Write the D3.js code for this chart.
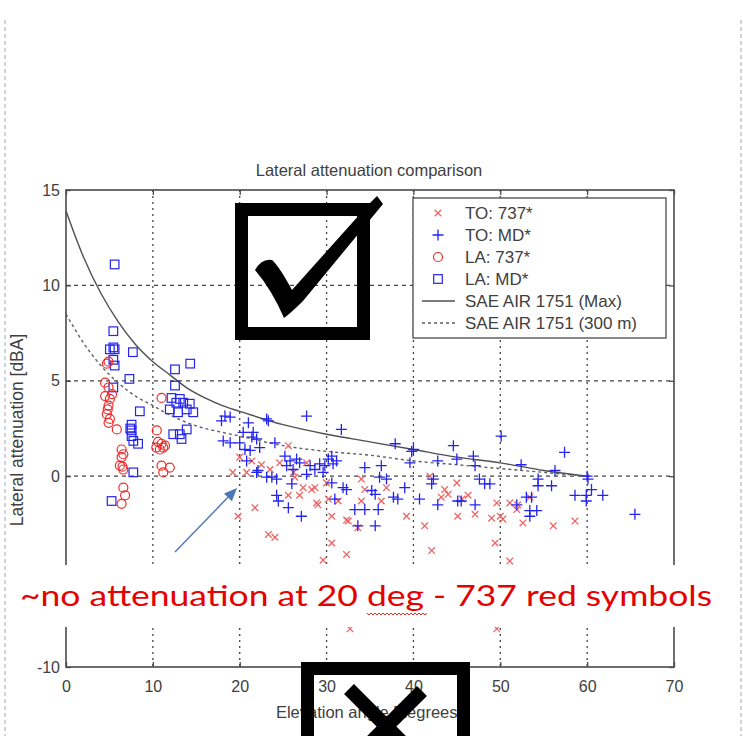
<!doctype html>
<html>
<head>
<meta charset="UTF-8">
<title>Lateral attenuation comparison</title>
<script src="https://d3js.org/d3.v7.min.js"></script>
<style>
  body { margin:0; background:#fff; }
  svg { display:block; }
</style>
</head>
<body>
<script>
// values
var xTicks = [0, 10, 20, 30, 40, 50, 60, 70];
var yTicks = [-10, -5, 0, 5, 10, 15];
var yTickLabels = [-10, 0, 5, 10, 15];   // "-5" sits under the note banner

var saeAngles = [0, 2, 4, 6, 8, 10, 12, 14, 16, 18, 20, 25, 30, 35, 40, 45, 50, 55, 60];
var saeMax    = [13.9, 11.5, 9.6, 8.1, 6.9, 6.0, 5.3, 4.6, 4.1, 3.7, 3.4, 2.7, 2.2, 1.8, 1.4, 1.0, 0.7, 0.3, 0.0];
var sae300    = [8.5, 7.0, 5.8, 4.9, 4.2, 3.7, 3.2, 2.8, 2.5, 2.3, 2.1, 1.6, 1.3, 1.1, 0.8, 0.6, 0.4, 0.2, 0.0];

var to737 = [[20.0,1.0],[21.4,0.8],[19.2,0.2],[20.8,0.2],[22.5,0.6],[24.6,0.7],[25.6,1.6],[23.5,0.35],
  [26.35,-0.05],[25.6,-1.0],[26.9,-1.0],[27.3,-0.6],[28.65,-0.6],[29.0,-1.5],[27.7,0.7],[21.75,-1.65],
  [19.8,-2.1],[23.3,-3.05],[24.05,-3.2],[30.6,-2.1],[30.6,-3.5],[32.3,-2.3],[32.3,-4.1],[30.2,-1.2],
  [31.35,-1.3],[34.0,-0.15],[34.4,-0.7],[34.0,-1.3],[36.3,-1.3],[36.9,-0.6],[32.5,-2.35],[33.6,-2.7],
  [39.2,-2.1],[41.3,-2.6],[42.1,-3.9],[41.9,0.0],[43.6,-0.7],[44.0,-0.95],[43.2,-1.1],[45.0,-0.35],
  [46.3,-1.0],[45.1,-2.1],[47.1,-2.0],[49.0,-2.2],[49.4,-3.5],[49.6,-1.4],[51.1,-1.4],[50.3,-2.25],
  [51.1,-4.45],[51.9,-1.75],[52.6,-2.45],[53.4,-1.1],[56.1,-2.6],[58.6,-2.35],[52.0,-1.5],[30.0,-0.35],
  [26.2,0.2],[28.3,-0.7],[28.85,-1.4],[32.7,-8.0],[49.6,-8.0],[29.6,-4.4],[45.6,-1.2],[50.0,-2.1]];

var toMD = [[18.3,3.15],[17.9,2.9],[18.9,3.1],[21.0,2.8],[23.3,2.9],[27.7,3.15],[31.7,2.45],[20.4,2.3],
  [21.55,2.3],[21.95,1.95],[21.4,2.05],[18.9,1.75],[18.1,1.85],[20.0,1.75],[24.05,1.75],[22.3,1.5],
  [21.2,1.35],[20.8,0.8],[22.1,0.3],[23.7,-0.05],[24.25,-0.15],[25.2,1.05],[25.8,0.8],[26.55,0.9],
  [25.4,0.55],[26.15,0.35],[26.9,0.7],[26.0,-0.4],[24.25,-1.0],[24.45,-1.3],[25.6,-1.65],[27.1,-2.1],
  [28.1,0.55],[28.65,0.35],[27.7,0.1],[29.2,0.65],[29.8,0.55],[29.6,0.2],[30.2,0.9],[30.6,1.05],
  [30.75,0.65],[31.15,0.8],[30.6,-0.35],[31.9,-0.6],[30.95,-1.2],[37.9,1.7],[40.0,1.4],[39.6,0.7],
  [42.8,0.8],[44.6,1.6],[45.0,0.9],[46.9,1.05],[47.1,0.55],[47.6,-0.15],[48.2,-0.4],[34.4,0.45],
  [36.3,0.55],[36.1,-0.05],[36.9,-0.15],[32.3,-0.7],[35.6,-0.95],[39.0,-0.6],[38.2,-1.2],[40.7,-1.2],
  [42.3,-0.15],[42.1,-0.4],[33.25,-1.75],[34.4,-1.75],[35.95,-1.75],[33.6,-2.6],[35.6,-2.6],[42.8,-1.5],
  [45.1,-1.3],[45.5,-1.3],[47.1,-1.5],[37.7,-1.1],[35.2,-0.75],[39.8,1.3],[50.1,2.1],[57.4,1.25],
  [52.4,0.6],[54.35,-0.15],[54.35,-0.5],[55.9,-0.5],[56.3,0.3],[60.1,-0.15],[60.5,-0.7],[58.6,-1.0],
  [59.9,-1.0],[61.8,-1.0],[59.9,-1.3],[65.5,-2.0],[53.0,-1.1],[53.6,-1.1],[51.9,-1.5],[53.4,-1.8],
  [54.2,-1.8],[53.4,-2.1],[48.8,-0.4],[60.0,0.0],[23.1,3.0],[21.95,0.2],[23.1,-0.05],[20.6,1.4]];

var la737 = [[4.9,6.0],[4.7,5.9],[4.5,4.9],[4.9,4.65],[4.5,4.2],[5.05,4.05],[4.9,3.7],[4.7,3.25],
  [5.05,3.0],[4.9,2.8],[5.85,2.45],[6.4,1.4],[6.6,1.15],[6.4,1.0],[6.2,0.55],[6.6,0.35],[6.5,0.5],
  [6.6,-0.6],[6.8,-1.0],[6.4,-1.45],[11.0,4.1],[10.45,2.4],[10.6,1.8],[11.0,1.7],[10.4,1.5],[11.4,1.6],
  [10.8,1.4],[11.2,1.5],[11.0,0.55],[11.95,0.45],[11.2,0.2],[5.3,4.3],[4.8,3.5]];

var laMD = [[5.6,11.1],[5.45,7.6],[5.45,6.75],[5.45,6.1],[7.7,6.5],[5.6,5.8],[7.3,5.1],[5.45,4.65],
  [8.5,3.4],[7.55,2.7],[7.4,2.5],[7.55,2.4],[7.55,2.1],[7.75,1.85],[8.3,1.7],[7.75,0.2],[5.25,-1.3],
  [12.55,5.6],[14.3,5.9],[12.55,4.75],[12.15,4.1],[12.7,3.85],[13.5,3.85],[14.25,3.8],[14.65,3.35],
  [11.95,3.5],[12.9,3.35],[13.9,3.5],[13.1,4.05],[12.35,2.2],[13.1,2.2],[13.9,2.45],[13.3,1.95],
  [5.05,6.65],[5.6,6.65]];

var legendNames = ["TO: 737*", "TO: MD*", "LA: 737*", "LA: MD*", "SAE AIR 1751 (Max)", "SAE AIR 1751 (300 m)"];
var titleText = "Lateral attenuation comparison";
var xLabel = "Elevation angle [degrees]";
var yLabel = "Lateral attenuation [dBA]";
var noteText = "~no attenuation at 20 deg - 737 red symbols";

var W = 743, H = 736;
var pl = 66, pr = 674, pt = 190, pb = 667;
var font = "'Liberation Sans', Arial, sans-serif";
var ink = "#404040";
var blue = "#2424f0", red = "#f02a2a", pink = "#f06464";

var svg = d3.select("body").append("svg").attr("width", W).attr("height", H);

var x = d3.scaleLinear().domain([0, 70]).range([pl, pr]);
var y = d3.scaleLinear().domain([-10, 15]).range([pb, pt]);

// page frame (dashed, like a slide placeholder)
svg.append("line").attr("x1", 5).attr("x2", 5).attr("y1", 20).attr("y2", H)
  .attr("stroke", "#a0a8b8").attr("stroke-dasharray", "4,3");
svg.append("line").attr("x1", 741).attr("x2", 741).attr("y1", 20).attr("y2", H)
  .attr("stroke", "#a0a8b8").attr("stroke-dasharray", "4,3");

// grid
svg.append("g").selectAll("line").data(xTicks.slice(1, -1)).enter().append("line")
  .attr("x1", function(d){ return x(d); }).attr("x2", function(d){ return x(d); })
  .attr("y1", pt).attr("y2", pb)
  .attr("stroke", "#444").attr("stroke-width", 1.3).attr("stroke-dasharray", "2,4");
svg.append("g").selectAll("line").data(yTicks.slice(1, -1)).enter().append("line")
  .attr("x1", pl).attr("x2", pr)
  .attr("y1", function(d){ return y(d); }).attr("y2", function(d){ return y(d); })
  .attr("stroke", "#444").attr("stroke-width", 1.3).attr("stroke-dasharray", "4,4");

// SAE curves
var line = d3.line().curve(d3.curveMonotoneX)
  .x(function(d){ return x(d[0]); }).y(function(d){ return y(d[1]); });
svg.append("path").datum(d3.zip(saeAngles, saeMax)).attr("d", line)
  .attr("fill", "none").attr("stroke", "#505050").attr("stroke-width", 1.4);
svg.append("path").datum(d3.zip(saeAngles, sae300)).attr("d", line)
  .attr("fill", "none").attr("stroke", "#606060").attr("stroke-width", 1.4).attr("stroke-dasharray", "3,3");

// marker shapes
function plusPath(s){ return "M" + (-s) + ",0H" + s + "M0," + (-s) + "V" + s; }
function crossPath(s){ return "M" + (-s) + "," + (-s) + "L" + s + "," + s + "M" + (-s) + "," + s + "L" + s + "," + (-s); }

var pts = svg.append("g");
pts.selectAll(".sq").data(laMD).enter().append("rect").attr("class", "sq")
  .attr("x", function(d){ return x(d[0]) - 4.3; }).attr("y", function(d){ return y(d[1]) - 4.3; })
  .attr("width", 8.6).attr("height", 8.6)
  .attr("fill", "none").attr("stroke", blue).attr("stroke-width", 1.2);
pts.selectAll(".ci").data(la737).enter().append("circle").attr("class", "ci")
  .attr("cx", function(d){ return x(d[0]); }).attr("cy", function(d){ return y(d[1]); })
  .attr("r", 4.5).attr("fill", "none").attr("stroke", red).attr("stroke-width", 1.2);
pts.selectAll(".xx").data(to737).enter().append("path").attr("class", "xx")
  .attr("transform", function(d){ return "translate(" + x(d[0]) + "," + y(d[1]) + ")"; })
  .attr("d", crossPath(3.3)).attr("fill", "none").attr("stroke", pink).attr("stroke-width", 1.3);
pts.selectAll(".pl").data(toMD).enter().append("path").attr("class", "pl")
  .attr("transform", function(d){ return "translate(" + x(d[0]) + "," + y(d[1]) + ")"; })
  .attr("d", plusPath(5.5)).attr("fill", "none").attr("stroke", blue).attr("stroke-width", 1.3);

// axes box with inner ticks
svg.append("rect").attr("x", pl).attr("y", pt).attr("width", pr - pl).attr("height", pb - pt)
  .attr("fill", "none").attr("stroke", "#4a4a4a").attr("stroke-width", 1.6);

function tickOnly(axis){ return axis.tickSize(-5).tickFormat(""); }
[[d3.axisBottom(x).tickValues(xTicks), "translate(0," + pb + ")"],
 [d3.axisTop(x).tickValues(xTicks), "translate(0," + pt + ")"],
 [d3.axisLeft(y).tickValues(yTicks), "translate(" + pl + ",0)"],
 [d3.axisRight(y).tickValues(yTicks), "translate(" + pr + ",0)"]].forEach(function(a){
  var g = svg.append("g").attr("transform", a[1]).call(tickOnly(a[0]));
  g.select(".domain").remove();
  g.selectAll("line").attr("stroke", "#4a4a4a").attr("stroke-width", 1.3);
});

var gx = svg.append("g").attr("transform", "translate(0," + pb + ")")
  .call(d3.axisBottom(x).tickValues(xTicks).tickFormat(String).tickSize(0).tickPadding(14));
gx.select(".domain").remove();
gx.attr("font-family", font).attr("font-size", 16).attr("color", ink);

var gy = svg.append("g").attr("transform", "translate(" + pl + ",0)")
  .call(d3.axisLeft(y).tickValues(yTickLabels).tickFormat(String).tickSize(0).tickPadding(6));
gy.select(".domain").remove();
gy.attr("font-family", font).attr("font-size", 16).attr("color", ink);

// titles
svg.append("text").attr("x", 369).attr("y", 176).attr("text-anchor", "middle")
  .attr("font-family", font).attr("font-size", 16.5).attr("fill", ink).text(titleText);
svg.append("text").attr("x", 369).attr("y", 718).attr("text-anchor", "middle")
  .attr("font-family", font).attr("font-size", 16.5).attr("fill", ink).text(xLabel);
svg.append("text").attr("transform", "translate(23,430) rotate(-90)").attr("text-anchor", "middle")
  .attr("font-family", font).attr("font-size", 17.5).attr("fill", ink).text(yLabel);

// legend
var lg = svg.append("g");
lg.append("rect").attr("x", 413).attr("y", 198).attr("width", 253).attr("height", 140)
  .attr("fill", "#fff").attr("stroke", "#4a4a4a").attr("stroke-width", 1.3);
var rowY = d3.scalePoint().domain(legendNames).range([213, 323]);
lg.selectAll("text").data(legendNames).enter().append("text")
  .attr("x", 465).attr("y", function(d){ return rowY(d) + 6; })
  .attr("font-family", font).attr("font-size", 17).attr("fill", ink).text(function(d){ return d; });
var mx = 438;
lg.append("path").attr("transform", "translate(" + mx + "," + rowY(legendNames[0]) + ")")
  .attr("d", crossPath(3.3)).attr("fill", "none").attr("stroke", pink).attr("stroke-width", 1.3);
lg.append("path").attr("transform", "translate(" + mx + "," + rowY(legendNames[1]) + ")")
  .attr("d", plusPath(5.5)).attr("fill", "none").attr("stroke", blue).attr("stroke-width", 1.3);
lg.append("circle").attr("cx", mx).attr("cy", rowY(legendNames[2])).attr("r", 4.5)
  .attr("fill", "none").attr("stroke", red).attr("stroke-width", 1.2);
lg.append("rect").attr("x", mx - 4.3).attr("y", rowY(legendNames[3]) - 4.3).attr("width", 8.6).attr("height", 8.6)
  .attr("fill", "none").attr("stroke", blue).attr("stroke-width", 1.2);
lg.append("line").attr("x1", 422).attr("x2", 455).attr("y1", rowY(legendNames[4])).attr("y2", rowY(legendNames[4]))
  .attr("stroke", "#505050").attr("stroke-width", 1.4);
lg.append("line").attr("x1", 422).attr("x2", 455).attr("y1", rowY(legendNames[5])).attr("y2", rowY(legendNames[5]))
  .attr("stroke", "#606060").attr("stroke-width", 1.4).attr("stroke-dasharray", "3,3");

// check box overlay
svg.append("rect").attr("x", 241.5).attr("y", 209.5).attr("width", 122).attr("height", 124)
  .attr("fill", "none").attr("stroke", "#000").attr("stroke-width", 13);
svg.append("path")
  .attr("d", "M255,270 Q262,258 272,260 Q279,266 292,290 L369,204 L377,196 L383,204 L303,301 Q292,312 284,318 Q272,290 255,270 Z")
  .attr("fill", "#000");

// arrow
var ax1 = 175, ay1 = 552, ax2 = 237, ay2 = 488;
var ang = Math.atan2(ay2 - ay1, ax2 - ax1), hl = 13, hw = 5.5;
var bx = ax2 - hl * Math.cos(ang), by = ay2 - hl * Math.sin(ang);
svg.append("line").attr("x1", ax1).attr("y1", ay1).attr("x2", bx).attr("y2", by)
  .attr("stroke", "#4a78b8").attr("stroke-width", 1.4);
svg.append("path").attr("d", "M" + ax2 + "," + ay2 +
  "L" + (bx + hw * Math.sin(ang)) + "," + (by - hw * Math.cos(ang)) +
  "L" + (bx - hw * Math.sin(ang)) + "," + (by + hw * Math.cos(ang)) + "Z")
  .attr("fill", "#4a78b8");

// note banner
svg.append("rect").attr("x", 10).attr("y", 565).attr("width", 727).attr("height", 62).attr("fill", "#fff");
var note = svg.append("text").attr("x", 20).attr("y", 606)
  .attr("font-family", "Lato, 'Open Sans', sans-serif").attr("font-size", 28)
  .attr("fill", "#e60000").attr("textLength", 692).attr("lengthAdjust", "spacingAndGlyphs")
  .text(noteText);
var n = note.node();
var s0 = n.getStartPositionOfChar(22).x, s1 = n.getEndPositionOfChar(24).x;
var wave = "M" + s0 + ",613";
for (var k = s0; k < s1; k += 4) wave += "L" + (k + 2) + ",615L" + (k + 4) + ",613";
svg.append("path").attr("d", wave).attr("fill", "none").attr("stroke", "#e60000").attr("stroke-width", 0.9);

// cross box overlay
svg.append("rect").attr("x", 307.5).attr("y", 668.5).attr("width", 156).attr("height", 110)
  .attr("fill", "none").attr("stroke", "#000").attr("stroke-width", 13);
svg.append("line").attr("x1", 349).attr("y1", 689).attr("x2", 420).attr("y2", 760)
  .attr("stroke", "#000").attr("stroke-width", 14);
svg.append("line").attr("x1", 422).attr("y1", 691).attr("x2", 351).attr("y2", 762)
  .attr("stroke", "#000").attr("stroke-width", 14);
</script>
</body>
</html>
